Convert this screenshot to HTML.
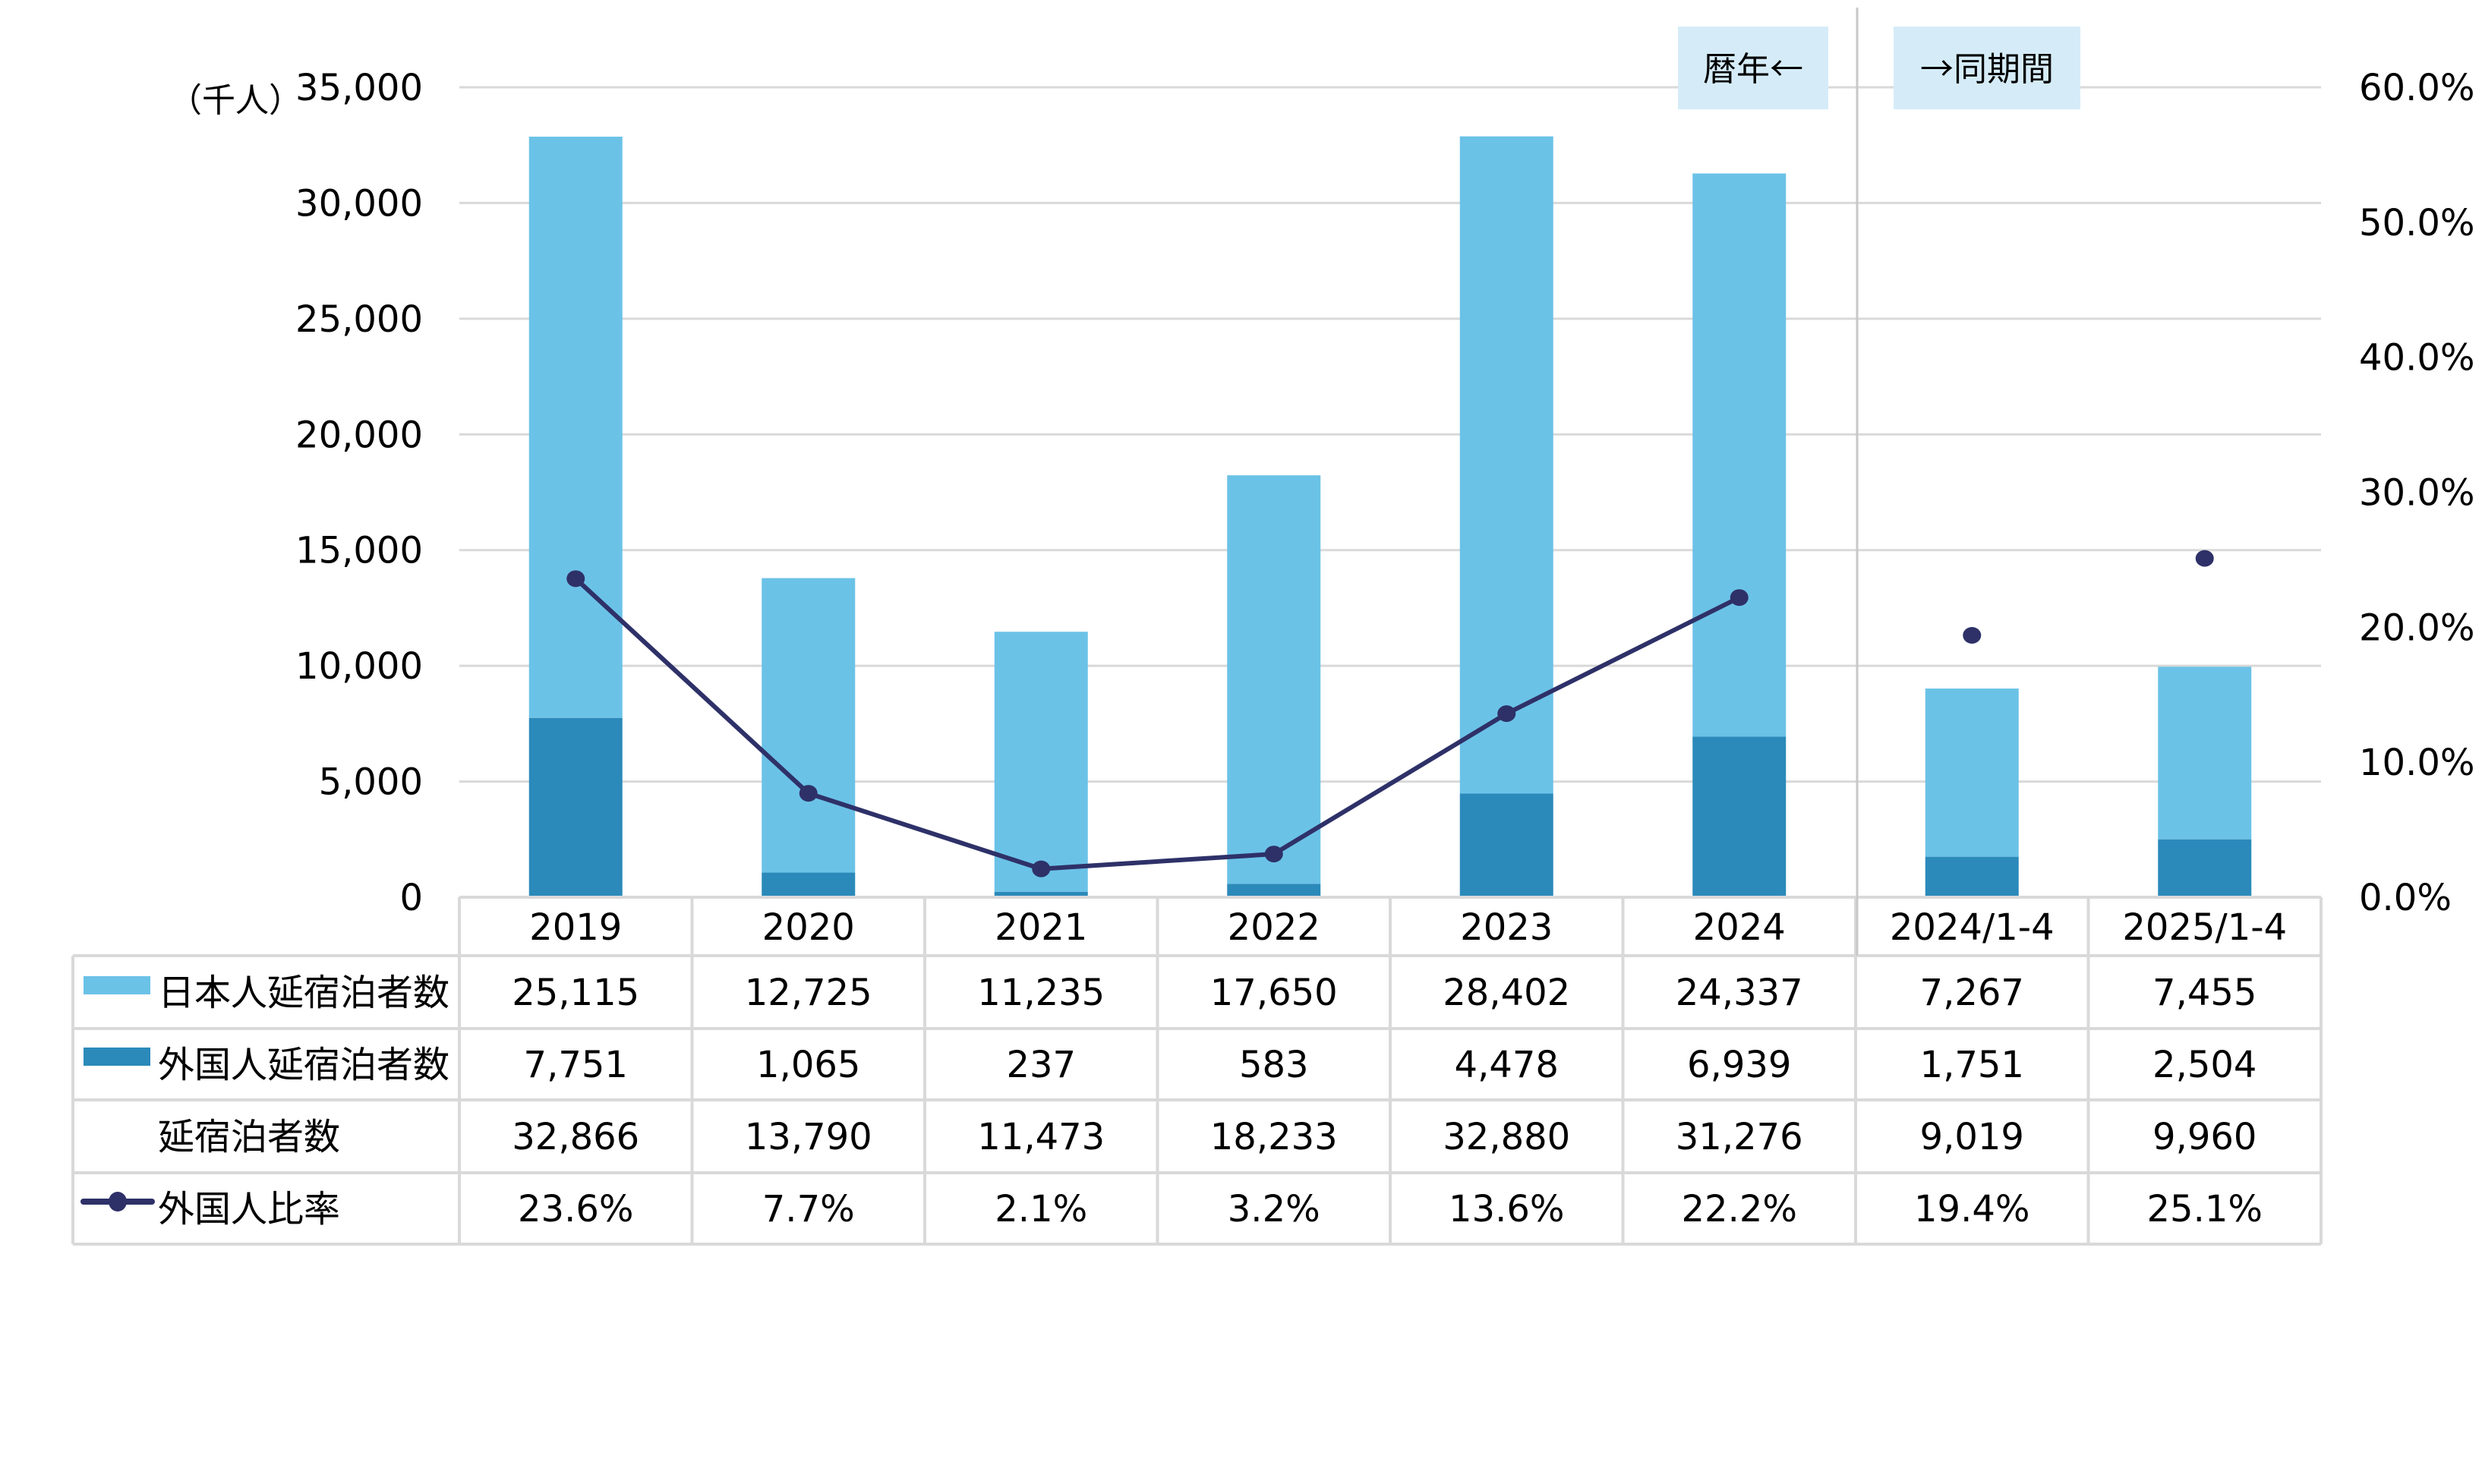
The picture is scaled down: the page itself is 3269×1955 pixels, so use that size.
<!DOCTYPE html>
<html><head><meta charset="utf-8"><style>
html,body{margin:0;padding:0;background:#fff;}
svg text{font-family:"DejaVu Sans","Noto Sans CJK JP",sans-serif;fill:#000;}
.cj{font-family:"Noto Sans CJK JP","DejaVu Sans",sans-serif;}
</style></head><body>
<svg id="chart" width="3269" height="1950" xmlns="http://www.w3.org/2000/svg">
<g id="grid"></g>
<g id="bars"></g>
<g id="line"></g>
<g id="axes"></g>
<g id="table"></g>
<line x1="2446" y1="10" x2="2446" y2="1259" stroke="#c8c8c8" stroke-width="3"/>
<rect x="2210" y="35" width="198" height="109" fill="#d5ecf8"/>
<text class="cj" x="2309" y="106" font-size="44" text-anchor="middle">暦年←</text>
<rect x="2494" y="35" width="246" height="109" fill="#d5ecf8"/>
<text class="cj" x="2617" y="106" font-size="44" text-anchor="middle">→同期間</text>
<text class="cj" x="222" y="147" font-size="44">（千人）</text>
</svg>
<script>
const categories=["2019","2020","2021","2022","2023","2024","2024/1-4","2025/1-4"];
const japanese=[25115,12725,11235,17650,28402,24337,7267,7455];
const foreign=[7751,1065,237,583,4478,6939,1751,2504];
const totals=[32866,13790,11473,18233,32880,31276,9019,9960];
const ratio=[23.6,7.7,2.1,3.2,13.6,22.2,19.4,25.1];
const leftTicks=[0,5000,10000,15000,20000,25000,30000,35000];
const rightTicks=[0,10,20,30,40,50,60];
const NS="http://www.w3.org/2000/svg";
const X0=605,X1=3057,Y0=1182,Y1=115;
const cw=(X1-X0)/categories.length;
const cx=i=>X0+cw*(i+0.5);
const yL=v=>Y0-(v/35000)*(Y0-Y1);
const yR=v=>Y0-(v/60)*(Y0-Y1);
function mk(tag,attrs,parent,txt){const e=document.createElementNS(NS,tag);for(const k in attrs)e.setAttribute(k,attrs[k]);if(txt!==undefined)e.textContent=txt;document.getElementById(parent).appendChild(e);return e;}
const fmt=v=>v.toLocaleString('en-US');
leftTicks.forEach(t=>{
  if(t>0){const g=mk('line',{x1:X0,x2:X1,y1:yL(t),y2:yL(t),stroke:'#d9d9d9','stroke-width':3},'grid');
  }
  const l=mk('text',{x:557,y:yL(t)+17,'font-size':48,'text-anchor':'end'},'axes',fmt(t));
  
});
rightTicks.forEach(t=>{
  const l=mk('text',{x:3107,y:yR(t)+17,'font-size':48},'axes',t.toFixed(1)+'%');
  
});
const bw=123;
categories.forEach((c,i)=>{
  const b1=mk('rect',{x:cx(i)-bw/2,y:yL(foreign[i]),width:bw,height:Y0-yL(foreign[i]),fill:'#2b8aba'},'bars');
  
  const top=foreign[i]+japanese[i];
  const b2=mk('rect',{x:cx(i)-bw/2,y:yL(top),width:bw,height:yL(foreign[i])-yL(top),fill:'#6bc2e7'},'bars');
  
});
let d='';for(let i=0;i<6;i++)d+=(i?'L':'M')+cx(i)+' '+yR(ratio[i]);
const pl=mk('path',{d:d,fill:'none',stroke:'#2e3168','stroke-width':6},'line');

ratio.forEach((r,i)=>{const p=mk('ellipse',{cx:cx(i),cy:yR(r),rx:12,ry:11,fill:'#2e3168'},'line');
});
const rowsY=[1182,1259,1355,1449,1545,1639];
const TL=96;
function ln(x1,y1,x2,y2){const l=mk('line',{x1,y1,x2,y2,stroke:'#d9d9d9','stroke-width':4},'table');}
ln(X0,rowsY[0],X1,rowsY[0]);
for(let r=1;r<rowsY.length;r++)ln(TL,rowsY[r],X1,rowsY[r]);
ln(TL,rowsY[1],TL,rowsY[5]);
for(let i=0;i<=categories.length;i++)ln(X0+cw*i,rowsY[0],X0+cw*i,rowsY[5]);
categories.forEach((c,i)=>{const t=mk('text',{x:cx(i),y:1238,'font-size':48,'text-anchor':'middle'},'table',c);
});
const rowData=[japanese.map(fmt),foreign.map(fmt),totals.map(fmt),ratio.map(v=>v.toFixed(1)+'%')];
const rowNames=['日本人延宿泊者数','外国人延宿泊者数','延宿泊者数','外国人比率'];
rowData.forEach((row,r)=>{
  const ymid=(rowsY[r+1]+rowsY[r+2])/2;
  const lab=mk('text',{x:208,y:ymid+17,'font-size':48,'class':'cj'},'table',rowNames[r]);
  
  row.forEach((v,i)=>{const t=mk('text',{x:cx(i),y:ymid+17,'font-size':48,'text-anchor':'middle'},'table',v);
  });
});
const s1=mk('rect',{x:110,y:1286,width:88,height:24,fill:'#6bc2e7'},'table');

const s2=mk('rect',{x:110,y:1380,width:88,height:24,fill:'#2b8aba'},'table');

const s3=mk('line',{x1:110,y1:1583,x2:200,y2:1583,stroke:'#2e3168','stroke-width':8,'stroke-linecap':'round'},'table');

const s4=mk('ellipse',{cx:155,cy:1583,rx:12,ry:13,fill:'#2e3168'},'table');

</script>
</body></html>
